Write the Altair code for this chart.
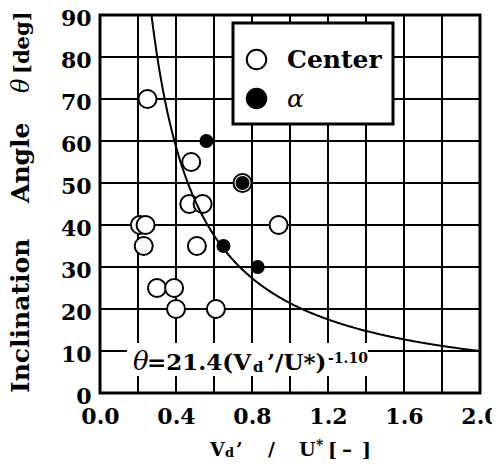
import altair as alt
import pandas as pd

# ---- data ----
center_x = [0.25, 0.48, 0.47, 0.54, 0.21, 0.24, 0.23, 0.51, 0.94, 0.30, 0.39, 0.40, 0.61, 0.75]
center_y = [70, 55, 45, 45, 40, 40, 35, 35, 40, 25, 25, 20, 20, 50]
alpha_x = [0.56, 0.75, 0.65, 0.83]
alpha_y = [60, 50, 35, 30]
series_names = ["Center", "α"]
x_ticks = [0.0, 0.2, 0.4, 0.6, 0.8, 1.0, 1.2, 1.4, 1.6, 1.8, 2.0]
y_ticks = [0, 10, 20, 30, 40, 50, 60, 70, 80, 90]
fit_coef = 21.4
fit_exp = -1.10

# ---- layout ----
PLOT_LEFT, PLOT_TOP = 100, 15   # plot origin in page pixels
W, H = 380, 378
SERIF = "DejaVu Serif"

points = pd.DataFrame({
    "x": center_x + alpha_x,
    "y": center_y + alpha_y,
    "series": [series_names[0]] * len(center_x) + [series_names[1]] * len(alpha_x),
})

x_lo, x_hi = x_ticks[0], x_ticks[-1]
y_lo, y_hi = y_ticks[0], y_ticks[-1]

# grid drawn as one continuous path per direction; the connecting pieces run along the frame
vx, vy = [], []
for i, v in enumerate(x_ticks):
    ends = [y_lo, y_hi] if i % 2 == 0 else [y_hi, y_lo]
    vx += [v, v]
    vy += ends
vgrid = pd.DataFrame({"gx": vx, "gy": vy, "i": list(range(len(vx)))})

hx, hy = [], []
for i, v in enumerate(y_ticks):
    ends = [x_lo, x_hi] if i % 2 == 0 else [x_hi, x_lo]
    hy += [v, v]
    hx += ends
hgrid = pd.DataFrame({"hx": hx, "hy": hy, "i": list(range(len(hx)))})

xscale = alt.Scale(domain=[x_lo, x_hi], nice=False)
yscale = alt.Scale(domain=[y_lo, y_hi], nice=False)

x_axis = alt.Axis(values=x_ticks, title=None, grid=False, ticks=False, domain=False,
                  labelExpr="(round(datum.value*10) % 4 == 0) ? format(datum.value, '.1f') : ''",
                  labelFlush=False, labelOverlap=False, labelPadding=13)
y_axis = alt.Axis(values=y_ticks, title=None, grid=False, ticks=False, domain=False,
                  format="d", labelPadding=9, labelOffset=3, labelBaseline="middle")

xgrid = alt.Chart(vgrid).mark_line(color="black", strokeWidth=2, strokeJoin="miter").encode(
    x=alt.X("gx:Q", scale=xscale, axis=x_axis),
    y=alt.Y("gy:Q", scale=yscale, axis=y_axis),
    order=alt.Order("i:Q"))
ygrid = alt.Chart(hgrid).mark_line(color="black", strokeWidth=2, strokeJoin="miter").encode(
    x=alt.X("hx:Q", scale=xscale),
    y=alt.Y("hy:Q", scale=yscale),
    order=alt.Order("i:Q"))

pts = alt.Chart(points).transform_calculate(
    sz="datum.series == 'Center' ? 324 : 144"
).mark_circle(stroke="black", strokeWidth=2, opacity=1).encode(
    x=alt.X("x:Q", scale=xscale),
    y=alt.Y("y:Q", scale=yscale),
    fill=alt.Fill("series:N", scale=alt.Scale(domain=series_names, range=["white", "black"]),
                  legend=alt.Legend(orient="none", legendX=133, legendY=8, title="\u00a0",
                                    titleFontSize=8, titlePadding=5, padding=11, rowPadding=10,
                                    symbolSize=380, symbolStrokeWidth=2, symbolStrokeColor="black",
                                    symbolType="circle", labelFontSize=25, labelOffset=18,
                                    labelBaseline="middle", labelLimit=300, labelColor="black",
                                    labelFont=SERIF,
                                    labelExpr="datum.label == 'Center' ? 'Center\u00a0' : datum.label",
                                    labelFontWeight={"expr": "datum.label == 'α' ? 'normal' : 'bold'"},
                                    labelFontStyle={"expr": "datum.label == 'α' ? 'italic' : 'normal'"},
                                    fillColor="white", strokeColor="black", cornerRadius=0)),
    size=alt.Size("sz:Q", scale=None),
)

curve = alt.Chart(alt.sequence(0.2, 2.001, 0.005, as_="v")).transform_calculate(
    th=f"{fit_coef} * pow(datum.v, {fit_exp})"
).mark_line(color="black", strokeWidth=2, clip=True).encode(
    x=alt.X("v:Q", scale=xscale), y=alt.Y("th:Q", scale=yscale)
)

blank = alt.Data(values=[{"k": 0}])


def txt(s, x, y, size, weight="bold", style="normal", angle=0, baseline="alphabetic"):
    return alt.Chart(blank).mark_text(
        text=s, align="left", baseline=baseline, font=SERIF, fontSize=size,
        fontWeight=weight, fontStyle=style, angle=angle, color="black"
    ).encode(x=alt.value(x - PLOT_LEFT), y=alt.value(y - PLOT_TOP))


# white patch behind the fit formula, drawn as a thick white stroke in plot coordinates
patch = alt.Chart(alt.Data(values=[{"px": 0.142, "py": 8.0}, {"px": 1.41, "py": 8.0}])).mark_line(
    color="white", strokeWidth=33, strokeCap="butt").encode(
    x=alt.X("px:Q", scale=xscale), y=alt.Y("py:Q", scale=yscale))

formula = [
    txt("θ", 133, 370, 26, weight="normal", style="italic"),
    txt("=21.4(V", 147, 370, 23),
    txt("d", 253, 372, 15),
    txt("’/U*)", 267, 370, 23),
    txt("-1.10", 328, 363, 14),
]

xtitle = [
    txt("V", 210, 456, 19),
    txt("d", 225, 457, 13),
    txt("’", 236, 456, 19),
    txt("/", 268, 456, 19),
    txt("U", 299, 456, 19),
    txt("*", 316, 450, 14),
    txt("[", 328, 456, 19),
    txt("–", 342, 456, 20),
    txt("]", 362, 456, 19),
]

ytitle = [
    txt("Inclination", 29, 393, 25, angle=270),
    txt("Angle", 29, 203, 25, angle=270),
    txt("θ", 29, 93, 24, weight="normal", style="italic", angle=270),
    txt("[deg]", 29, 74, 21, angle=270),
]

chart = alt.layer(xgrid, ygrid, pts, curve, patch, *formula, *xtitle, *ytitle).properties(
    width=W, height=H,
    autosize=alt.AutoSizeParams(type="none"),
    padding={"left": PLOT_LEFT - 8, "top": PLOT_TOP - 8, "right": 12, "bottom": 66},
).configure(font=SERIF).configure_view(
    stroke="black", strokeWidth=3
).configure_axis(
    labelFont=SERIF, labelFontWeight="bold", labelFontSize=22, labelColor="black"
).configure_legend(strokeWidth=3)

chart.save("out.html", embed_options={"renderer": "svg", "actions": False})
